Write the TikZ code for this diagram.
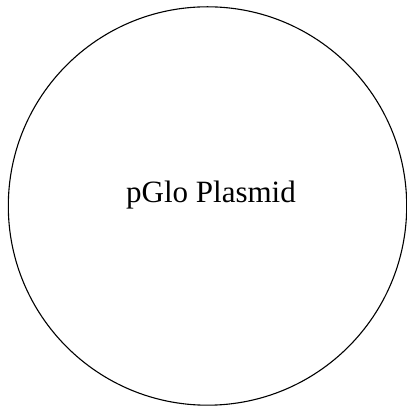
\documentclass[tikz,border=0pt]{standalone}
\usepackage{fontspec}
\setmainfont{Liberation Serif}
\usepackage{tikz}
\usetikzlibrary{positioning}

\begin{document}
\begin{tikzpicture}[x=1pt, y=1pt]

    % Fix the page
    \useasboundingbox (0,0) rectangle (407,406);

    % Draw plasmid ring
    \draw[line width=1.1pt] (207.5,200) circle (199.2);

    % Label
    \node[anchor=base, inner sep=0pt, font=\fontsize{31}{36}\selectfont] (label) at (211,203) {pGlo Plasmid};

\end{tikzpicture}
\end{document}
